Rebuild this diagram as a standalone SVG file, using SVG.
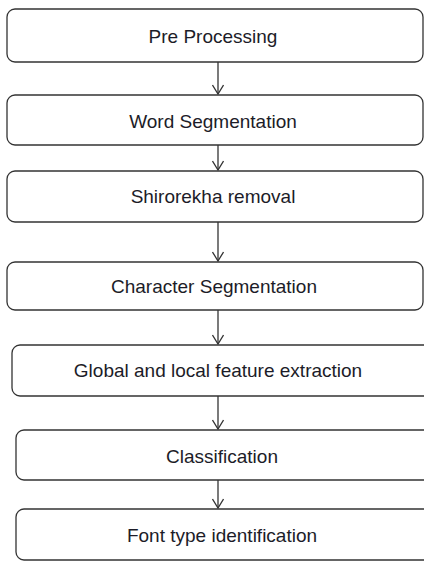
<svg xmlns="http://www.w3.org/2000/svg" width="424" height="561" viewBox="0 0 424 561">
<defs>
<style>
.box{fill:#fff;stroke:#333;stroke-width:1.3}
.t{font-family:"Liberation Sans",Arial,sans-serif;font-size:19px;fill:#1c1c28;text-anchor:middle}
.c{stroke:#333;stroke-width:1.3;fill:none}
</style>
<marker id="ah" markerWidth="12" markerHeight="12" refX="10" refY="6" orient="auto" markerUnits="userSpaceOnUse">
<path d="M1,0.5 L10,6 L1,11.5" fill="none" stroke="#333" stroke-width="1.3"/>
</marker>
</defs>
<rect width="424" height="561" fill="#fff"/>
<g id="connectors">
<line class="c" x1="218" y1="62" x2="218" y2="94" marker-end="url(#ah)"/>
<line class="c" x1="218" y1="145" x2="218" y2="170" marker-end="url(#ah)"/>
<line class="c" x1="218" y1="222" x2="218" y2="261" marker-end="url(#ah)"/>
<line class="c" x1="218" y1="310" x2="218" y2="344" marker-end="url(#ah)"/>
<line class="c" x1="218" y1="396" x2="218" y2="429" marker-end="url(#ah)"/>
<line class="c" x1="218" y1="480" x2="218" y2="508" marker-end="url(#ah)"/>
</g>
<g id="n1"><rect class="box" x="7" y="9" width="416" height="53" rx="8"/><text class="t" x="213" y="43">Pre Processing</text></g>
<g id="n2"><rect class="box" x="7" y="95" width="416" height="50" rx="8"/><text class="t" x="213" y="128">Word Segmentation</text></g>
<g id="n3"><rect class="box" x="7" y="171" width="416" height="51" rx="8"/><text class="t" x="213" y="203">Shirorekha removal</text></g>
<g id="n4"><rect class="box" x="7" y="262" width="416" height="48" rx="8"/><text class="t" x="214" y="293">Character Segmentation</text></g>
<g id="n5"><rect class="box" x="12" y="345" width="420" height="51" rx="8"/><text class="t" x="218" y="377">Global and local feature extraction</text></g>
<g id="n6"><rect class="box" x="16" y="430" width="420" height="50" rx="8"/><text class="t" x="222" y="463">Classification</text></g>
<g id="n7"><rect class="box" x="16" y="509" width="420" height="51" rx="8"/><text class="t" x="222" y="542">Font type identification</text></g>
</svg>
